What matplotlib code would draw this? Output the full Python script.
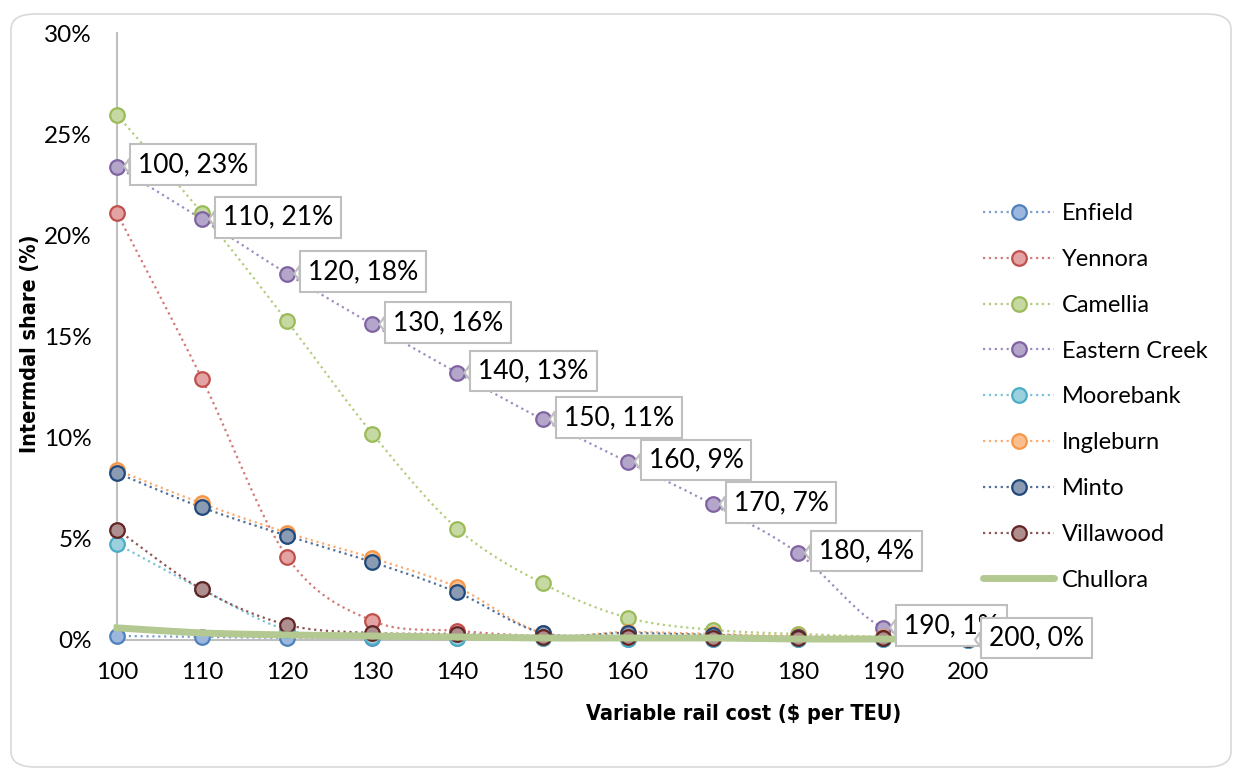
import numpy as np
import matplotlib
matplotlib.use("Agg")
from matplotlib import pyplot as plt
from matplotlib.patches import FancyBboxPatch
from matplotlib.lines import Line2D

plt.rcParams['font.family'] = ['Lato', 'DejaVu Sans']

# data (share in %)
costs = [100, 110, 120, 130, 140, 150, 160, 170, 180, 190, 200]
enfield = [0.2, 0.15, 0.1, 0.1, 0.1, 0.1, 0.05, 0.05, 0.05, 0.05, 0.0]
yennora = [21.1, 12.9, 4.1, 0.95, 0.45, 0.2, 0.2, 0.15, 0.1, 0.1, 0.05]
camellia = [25.95, 21.1, 15.75, 10.2, 5.5, 2.8, 1.1, 0.5, 0.3, 0.15, 0.1]
eastern_creek = [23.4, 20.8, 18.1, 15.6, 13.2, 10.9, 8.8, 6.7, 4.3, 0.6, 0.0]
moorebank = [4.75, 2.5, 0.5, 0.15, 0.1, 0.1, 0.05, 0.05, 0.05, 0.05, 0.0]
ingleburn = [8.4, 6.75, 5.3, 4.05, 2.6, 0.35, 0.4, 0.3, 0.2, 0.15, 0.1]
minto = [8.25, 6.55, 5.15, 3.85, 2.35, 0.35, 0.35, 0.25, 0.15, 0.1, 0.05]
villawood = [5.45, 2.5, 0.75, 0.35, 0.3, 0.15, 0.15, 0.1, 0.1, 0.1, 0.05]
chullora = [0.6, 0.35, 0.25, 0.2, 0.15, 0.1, 0.1, 0.1, 0.05, 0.05, 0.05]

names = ['Enfield', 'Yennora', 'Camellia', 'Eastern Creek', 'Moorebank',
         'Ingleburn', 'Minto', 'Villawood']
series = [enfield, yennora, camellia, eastern_creek, moorebank,
          ingleburn, minto, villawood]
edge_cols = ['#4f81bd', '#c0504d', '#9bbb59', '#8064a2', '#4bacc6',
             '#f79646', '#1f497d', '#632523']
face_cols = ['#9cb7de', '#e3a3a2', '#c6d9a2', '#b4a5cb', '#9bd1df',
             '#fbbe8f', '#8b9bb3', '#ae8e8e']
line_cols = ['#7f9fcf', '#d27b79', '#b2cd7f', '#a08cc0', '#7cc3d6',
             '#f9ac72', '#51709a', '#8e5553']


def smooth(x, y, n=20):
    # catmull-rom style smoothing (like excel "smoothed line")
    x = np.asarray(x, float)
    y = np.asarray(y, float)
    px = np.concatenate([[2 * x[0] - x[1]], x, [2 * x[-1] - x[-2]]])
    py = np.concatenate([[2 * y[0] - y[1]], y, [2 * y[-1] - y[-2]]])
    xs, ys = [], []
    t = np.linspace(0, 1, n, endpoint=False)
    for i in range(1, len(px) - 2):
        for p, out in ((px, xs), (py, ys)):
            p0, p1, p2, p3 = p[i - 1], p[i], p[i + 1], p[i + 2]
            out.extend(0.5 * ((2 * p1) + (-p0 + p2) * t
                              + (2 * p0 - 5 * p1 + 4 * p2 - p3) * t ** 2
                              + (-p0 + 3 * p1 - 3 * p2 + p3) * t ** 3))
    xs.append(x[-1])
    ys.append(y[-1])
    return np.array(xs), np.array(ys)


fig = plt.figure(figsize=(12.34, 7.69), dpi=100)
ax = fig.add_axes([117 / 1234, 1 - 640 / 769, 851 / 1234, 607 / 769])

# rounded outer border
fig.patches.append(FancyBboxPatch((11 / 1234, 2 / 769), 1220 / 1234, 753 / 769,
                                  boxstyle="round,pad=0,rounding_size=0.02",
                                  transform=fig.transFigure, fc='none',
                                  ec='#d9d9d9', lw=1.2, zorder=0))

handles = []
for nm, vals, ec, fc, lc in zip(names, series, edge_cols, face_cols, line_cols):
    sx, sy = smooth(costs, vals)
    ax.plot(sx, sy, ':', color=lc, lw=1.6, zorder=2, clip_on=False)
    ax.plot(costs, vals, 'o', ms=10.5, mfc=fc, mec=ec, mew=1.6, zorder=3,
            clip_on=False)
    handles.append(Line2D([], [], ls=':', color=lc, lw=1.6, marker='o', ms=10.5,
                          mfc=fc, mec=ec, mew=1.6, label=nm))

sx, sy = smooth(costs, chullora)
ax.plot(sx, sy, '-', color='#b3c991', lw=5, zorder=4, clip_on=False,
        solid_capstyle='projecting')
handles.append(Line2D([], [], color='#b3c991', lw=5, label='Chullora',
                      solid_capstyle='round'))

# data labels on Eastern Creek
for c, v in zip(costs, eastern_creek):
    ax.annotate(f"{c}, {round(v):.0f}%", xy=(c, v), xytext=(21, 2),
                textcoords='offset pixels', ha='left', va='center',
                fontsize=19, zorder=6,
                bbox=dict(boxstyle='square,pad=0.3', fc='white',
                          ec='#bfbfbf', lw=1.5),
                arrowprops=dict(arrowstyle='wedge,tail_width=0.55',
                                fc='white', ec='#bfbfbf', lw=1.5,
                                shrinkA=0, shrinkB=5))

ax.set_xlim(100, 200)
ax.set_ylim(0, 30)
ax.set_xticks(costs)
ax.set_yticks(np.arange(0, 31, 5))
ax.set_yticklabels([f"{t}%" for t in range(0, 31, 5)])
ax.tick_params(length=0, labelsize=17.5)
ax.tick_params(axis='y', pad=18)
ax.tick_params(axis='x', pad=16)
for s in ['top', 'right']:
    ax.spines[s].set_visible(False)
for s in ['left', 'bottom']:
    ax.spines[s].set_color('#bfbfbf')
    ax.spines[s].set_linewidth(1.5)

fig.text(30 / 1234, 1 - 344 / 769, 'Intermdal share (%)', rotation=90,
         ha='center', va='center', fontsize=15.5, fontweight='bold',
         family='DejaVu Sans', fontstretch='condensed')
fig.text(744 / 1234, 1 - 714 / 769, 'Variable rail cost ($ per TEU)',
         ha='center', va='center', fontsize=15.5, fontweight='bold',
         family='DejaVu Sans', fontstretch='condensed')

fig.legend(handles=handles, loc='upper left',
           bbox_to_anchor=(962 / 1234, 1 - 182 / 769), frameon=False,
           fontsize=17, handlelength=3.0, labelspacing=1.05, handletextpad=0.35)

fig.savefig('out.png', dpi=100)
